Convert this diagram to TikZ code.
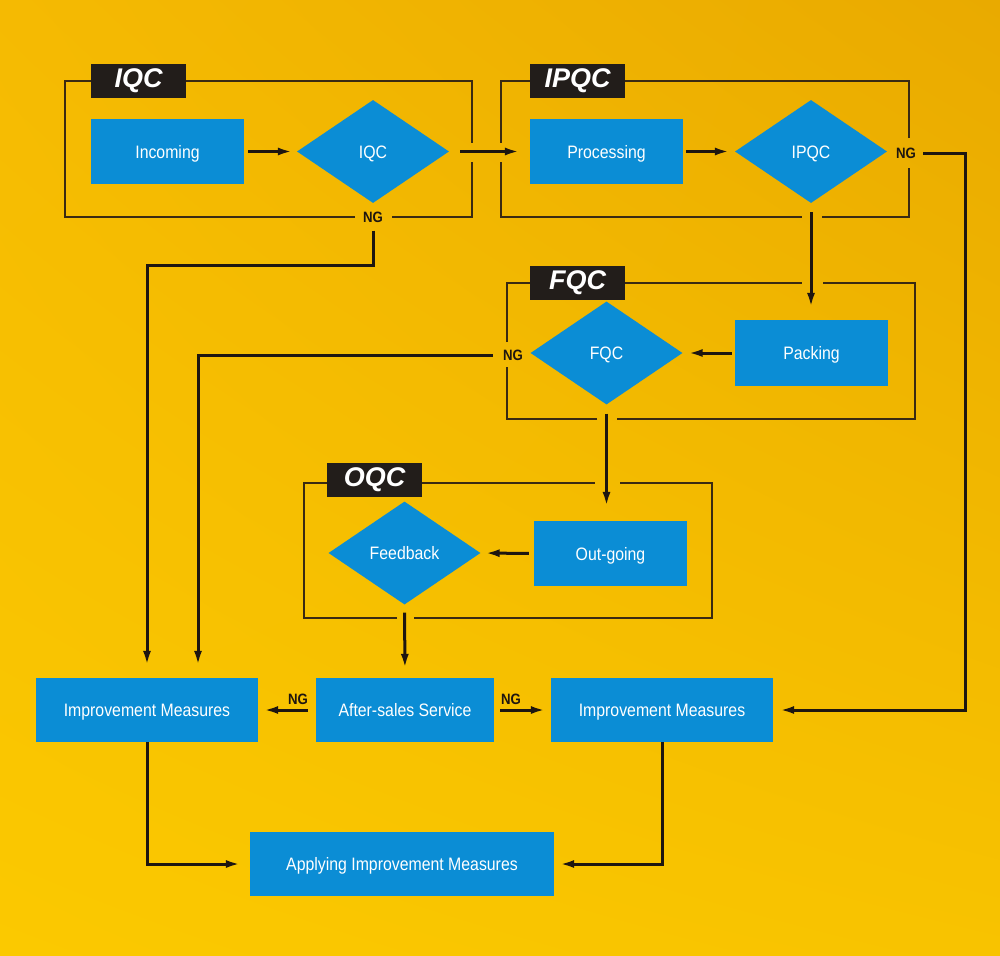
\documentclass[tikz,border=0pt]{standalone}
\usepackage{fontspec}
\setmainfont{Liberation Sans}[FakeStretch=0.88]
\newfontfamily\lblfont{Liberation Sans}
\usetikzlibrary{shapes.geometric,arrows.meta,shadings}
\definecolor{boxblue}{HTML}{0B8DD5}
\definecolor{tagblack}{HTML}{221D1A}
\definecolor{framecol}{HTML}{3A2A12}
\definecolor{arrcol}{HTML}{1E1610}
\definecolor{bgul}{HTML}{F5BA02}
\definecolor{bgur}{HTML}{E9AA00}
\definecolor{bgll}{HTML}{FBC900}
\definecolor{bglr}{HTML}{F8C300}
\begin{document}
\begin{tikzpicture}[x=1pt,y=-1pt,
 box/.style={rectangle, fill=boxblue, text=white, inner sep=0pt, text height=15pt, text depth=2pt, font=\fontsize{18}{20}\selectfont},
 dia/.style={diamond, fill=boxblue, text=white, inner sep=0pt, text height=15pt, text depth=2pt, minimum width=152pt, minimum height=103pt, font=\fontsize{18}{20}\selectfont},
 tagbox/.style={fill=tagblack, text=white, minimum width=95pt, minimum height=34pt, inner sep=0pt, font=\lblfont\bfseries\itshape\fontsize{27}{28}\selectfont},
 ng/.style={inner sep=0pt, text=arrcol, font=\bfseries\fontsize{15}{15}\selectfont},
 grp/.style={draw=framecol, line width=1.6pt},
 arr/.style={draw=arrcol, line width=3pt, -{Latex[length=15pt,width=8pt]}},
]
% background
\shade[upper left=bgul, upper right=bgur, lower left=bgll, lower right=bglr] (0,0) rectangle (1000,955);
\useasboundingbox (0,0) rectangle (1000,955);

% group frames
\draw[grp] (472,162) -- (472,217) -- (392,217);
\draw[grp] (355,217) -- (65,217) -- (65,81) -- (472,81) -- (472,143);
\draw[grp] (501,162) -- (501,217) -- (802,217);
\draw[grp] (822,217) -- (909,217) -- (909,168);
\draw[grp] (909,138) -- (909,81) -- (501,81) -- (501,143);
\draw[grp] (823,283) -- (915,283) -- (915,419) -- (617,419);
\draw[grp] (597,419) -- (507,419) -- (507,367);
\draw[grp] (507,342) -- (507,283) -- (802,283);
\draw[grp] (620,483) -- (712,483) -- (712,618) -- (414,618);
\draw[grp] (397,618) -- (304,618) -- (304,483) -- (595,483);

% group tags
\node[tagbox] (tIQC) at (138.5,81) {IQC};
\node[tagbox] (tIPQC) at (577.5,81) {IPQC};
\node[tagbox] (tFQC) at (577.5,283) {FQC};
\node[tagbox] (tOQC) at (374.5,479.5) {OQC};

% nodes
\node[box, minimum width=153pt, minimum height=65pt] (incoming) at (167.5,151.5) {Incoming};
\node[dia] (iqc) at (373,151.5) {IQC};
\node[box, minimum width=153pt, minimum height=65pt] (processing) at (606.5,151.5) {Processing};
\node[dia] (ipqc) at (811,151.5) {IPQC};
\node[box, minimum width=153pt, minimum height=66pt] (packing) at (811.5,353) {Packing};
\node[dia] (fqc) at (606.5,353) {FQC};
\node[box, minimum width=153pt, minimum height=65pt] (outgoing) at (610.5,553.5) {Out-going};
\node[dia] (feedback) at (404.5,553) {Feedback};
\node[box, minimum width=222pt, minimum height=64pt] (imL) at (147,710) {Improvement Measures};
\node[box, minimum width=178pt, minimum height=64pt] (after) at (405,710) {After-sales Service};
\node[box, minimum width=222pt, minimum height=64pt] (imR) at (662,710) {Improvement Measures};
\node[box, minimum width=304pt, minimum height=64pt] (apply) at (402,864) {Applying Improvement Measures};

% NG labels
\node[ng] (ng1) at (373,217) {NG};
\node[ng] (ng2) at (906,153) {NG};
\node[ng] (ng3) at (513,355) {NG};
\node[ng] (ng4) at (298,699) {NG};
\node[ng] (ng5) at (511,699) {NG};

\coordinate (c1) at (373,265);
\coordinate (c2) at (965,153);

% connectors
\draw[arr, shorten <=4pt, shorten >=4pt] (incoming.east) -- (iqc.west);
\draw[arr, shorten <=11pt, shorten >=10pt] (iqc.east) -- (processing.west);
\draw[arr, shorten <=3pt, shorten >=5pt] (processing.east) -- (ipqc.west);
\draw[arr, shorten <=9pt, shorten >=12pt] (ipqc.south) -- (ipqc.south |- packing.north);
\draw[arr, shorten <=3pt, shorten >=5pt] (packing.west) -- (fqc.east);
\draw[arr, shorten <=9pt, shorten >=14pt] (fqc.south) -- (fqc.south |- outgoing.north);
\draw[arr, shorten <=5pt, shorten >=4pt] (outgoing.west) -- (feedback.east);
\draw[arr, shorten <=8pt, shorten >=9pt] (feedback.south) -- (after.north);
\draw[arr, shorten <=8pt, shorten >=5pt] (after.west) -- (imL.east);
\draw[arr, shorten <=6pt, shorten >=5pt] (after.east) -- (imR.west);
\draw[arr, shorten <=8pt, shorten >=12pt] (ng1.south) -- (c1) -| (imL.north);
\draw[arr, shorten <=10pt, shorten >=12pt] (ng3.west) -| ([xshift=51pt]imL.north);
\draw[arr, shorten <=7pt, shorten >=6pt] (ng2.east) -- (c2) |- (imR.east);
\draw[arr, shorten >=9pt] (imL.south) |- (apply.west);
\draw[arr, shorten >=5pt] (imR.south) |- (apply.east);
\end{tikzpicture}
\end{document}
